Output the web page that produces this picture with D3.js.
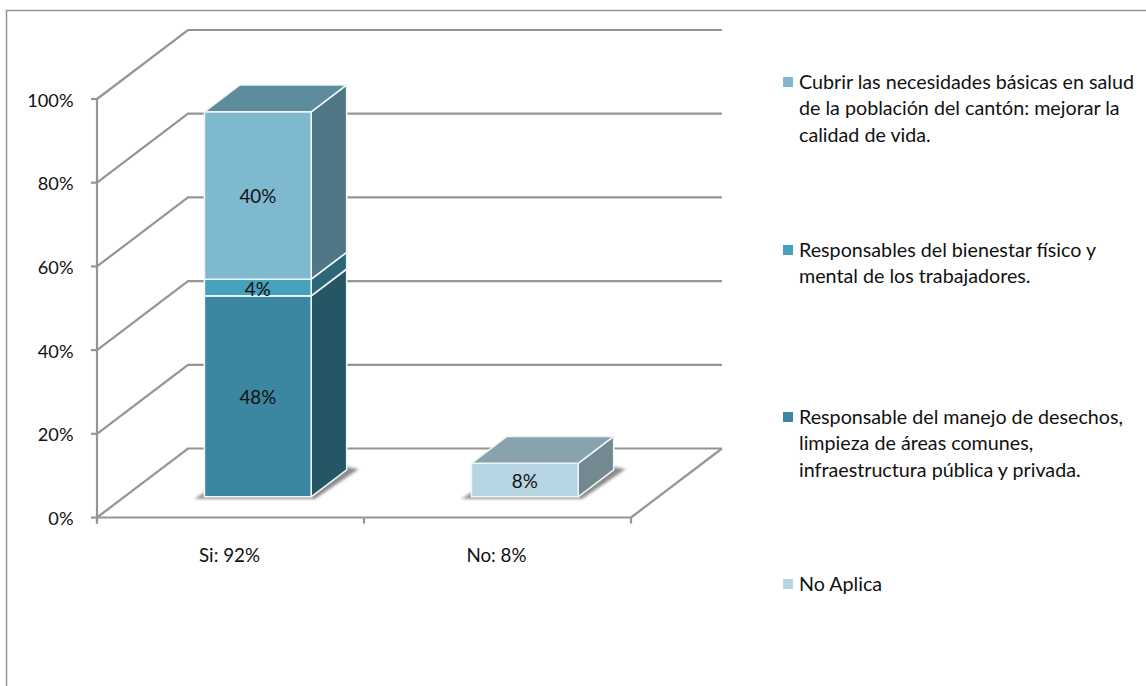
<!DOCTYPE html>
<html><head><meta charset="utf-8">
<script src="https://cdn.jsdelivr.net/npm/d3@7"></script>
<style>html,body{margin:0;padding:0;background:#fff}svg{display:block}text{font-family:Lato,"Open Sans",sans-serif;fill:#111}</style>
</head><body><div id="c"></div>
<script>
const categories = ["Si: 92%", "No: 8%"];
const s1 = [48, 0];
const s2 = [4, 0];
const s3 = [40, 0];
const s4 = [0, 8];
const seriesColors = ["#3b86a0", "#46a1bc", "#7fb9d0", "#b7d5e2"];
const sideColors = ["#255665", "#2c6677", "#4f7785", "#728991"];
const topColors = ["#5d8c9c", "#5d8c9c", "#5d8c9c", "#89a3ae"];
const yTicks = [0, 20, 40, 60, 80, 100];
const legendLines = [
  {c: 2, y: 82, lines: ["Cubrir las necesidades básicas en salud", "de la población del cantón: mejorar la", "calidad de vida."]},
  {c: 1, y: 250, lines: ["Responsables del bienestar físico y", "mental de los trabajadores."]},
  {c: 0, y: 417, lines: ["Responsable del manejo de desechos,", "limpieza de áreas comunes,", "infraestructura pública y privada."]},
  {c: 3, y: 584, lines: ["No Aplica"]}
];
const stacks = [s1, s2, s3, s4];

const W = 1146, H = 686;
const svg = d3.select("#c").append("svg").attr("width", W).attr("height", H);
const defs = svg.append("defs");
defs.append("filter").attr("id", "sh").attr("x", "-20%").attr("y", "-20%").attr("width", "140%").attr("height", "140%")
  .append("feGaussianBlur").attr("stdDeviation", 1.6);

const y = d3.scaleLinear().domain([0, 100]).range([517.5, 99]);
const x = d3.scaleBand().domain(categories).range([97, 631]);
const depth = d3.scaleLinear().domain([0, 1]).range([0, 91]);   // depth → horizontal shift
const depthY = d3.scaleLinear().domain([0, 1]).range([0, -69]); // depth → vertical shift
const P = (px, v, d) => [px + depth(d), y(v) + depthY(d)];
const poly = pts => pts.map(p => p.join(",")).join(" ");
const gray = "#959595";

// chart frame
svg.append("path").attr("d", `M6.5,686V10.5H${W}`).attr("fill", "none").attr("stroke", gray).attr("stroke-width", 1.5);

// gridlines
const grid = svg.append("g").attr("fill", "none").attr("stroke", gray).attr("stroke-width", 2.2);
yTicks.forEach(t => {
  grid.append("polyline").attr("points", poly([P(97, t, 0), P(97, t, 1), P(631, t, 1)]));
});
grid.append("line").attr("x1", P(631, 0, 0)[0]).attr("y1", P(631, 0, 0)[1]).attr("x2", P(631, 0, 1)[0]).attr("y2", P(631, 0, 1)[1]);
// axes
const axisG = svg.append("g").attr("stroke", gray).attr("stroke-width", 2.2);
axisG.append("line").attr("x1", 97).attr("x2", 97).attr("y1", y(100)).attr("y2", y(0) + 6);
axisG.append("line").attr("x1", 97).attr("x2", 631).attr("y1", y(0)).attr("y2", y(0));
yTicks.forEach(t => axisG.append("line").attr("x1", 91).attr("x2", 97).attr("y1", y(t)).attr("y2", y(t)));
[97, 364, 631].forEach(px => axisG.append("line").attr("x1", px).attr("x2", px).attr("y1", y(0)).attr("y2", y(0) + 6));

svg.append("g").selectAll("text").data(yTicks).join("text")
  .attr("x", 73.5).attr("y", d => y(d) + 7.5).attr("text-anchor", "end").attr("font-size", 18.2).text(d => d + "%");
svg.append("g").selectAll("text").data(categories).join("text")
  .attr("x", d => x(d) + x.bandwidth() / 2 - 1).attr("y", 562).attr("text-anchor", "middle").attr("font-size", 18.8).text(d => d);

// bars
const barW = x.bandwidth() * 0.4, d0 = 0.3, d1 = 0.69;
const bars = svg.append("g");
categories.forEach((cat, ci) => {
  const xl = x(cat) + x.bandwidth() * 0.3, xr = xl + barW;
  const total = d3.sum(stacks, s => s[ci]);
  // floor shadow
  bars.append("polygon").attr("points", poly([
      [P(xl, 0, d0)[0] - 10, P(xl, 0, d0)[1] + 2], [P(xr, 0, d0)[0] + 4, P(xr, 0, d0)[1] + 2],
      [P(xr, 0, d1)[0] + 12, P(xr, 0, d1)[1] - 1], [P(xr, 0, d1)[0], P(xr, 0, d1)[1] - 3], [P(xl, 0, d0)[0], P(xl, 0, d0)[1] - 4]]))
    .attr("fill", "#8a8a8a").attr("filter", "url(#sh)");
  let base = 0;
  stacks.forEach((s, si) => {
    const v = s[ci];
    if (!v) return;
    const top = base + v;
    const stroke = {stroke: "#eef5f7", "stroke-width": 1.6, "stroke-linejoin": "round"};
    const side = bars.append("polygon").attr("points", poly([P(xr, base, d0), P(xr, base, d1), P(xr, top, d1), P(xr, top, d0)])).attr("fill", sideColors[si]);
    const front = bars.append("polygon").attr("points", poly([P(xl, base, d0), P(xr, base, d0), P(xr, top, d0), P(xl, top, d0)])).attr("fill", seriesColors[si]);
    [side, front].forEach(m => Object.entries(stroke).forEach(([k, val]) => m.attr(k, val)));
    if (top === total) {
      const t = bars.append("polygon").attr("points", poly([P(xl, top, d0), P(xr, top, d0), P(xr, top, d1), P(xl, top, d1)])).attr("fill", topColors[si]);
      Object.entries(stroke).forEach(([k, val]) => t.attr(k, val));
    }
    bars.append("text").attr("x", P((xl + xr) / 2, 0, d0)[0]).attr("y", P(0, base + v / 2, d0)[1] + 8)
      .attr("text-anchor", "middle").attr("font-size", 18.8).text(v + "%");
    base = top;
  });
});

// legend
const lg = svg.append("g");
legendLines.forEach(e => {
  lg.append("rect").attr("x", 783).attr("y", e.y - 5).attr("width", 10).attr("height", 10).attr("fill", seriesColors[e.c]);
  e.lines.forEach((l, i) => lg.append("text").attr("x", 799).attr("y", e.y + 6.5 + i * 26.6).attr("font-size", 19.7).text(l));
});
</script></body></html>
